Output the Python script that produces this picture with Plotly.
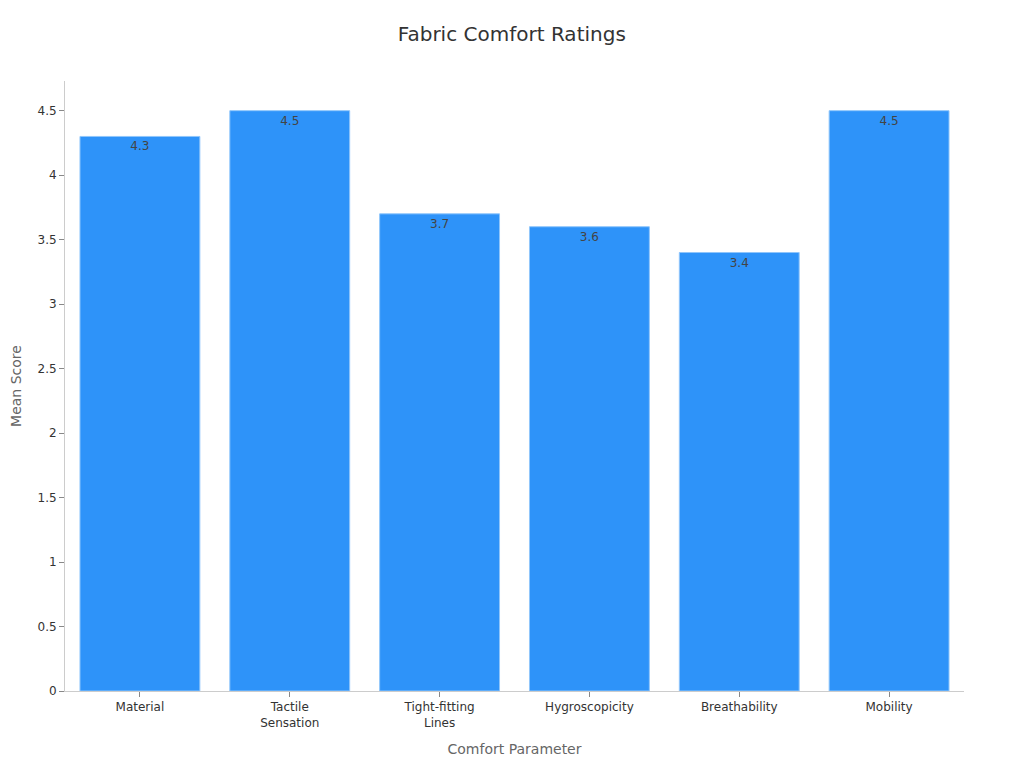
import plotly.graph_objects as go

# dados do grafico
parametros = ['Material', 'Tactile<br>Sensation', 'Tight-fitting<br>Lines',
              'Hygroscopicity', 'Breathability', 'Mobility']
media = [4.3, 4.5, 3.7, 3.6, 3.4, 4.5]
rotulos = ['4.3', '4.5', '3.7', '3.6', '3.4', '4.5']

fig = go.Figure(go.Bar(
    x=parametros,
    y=media,
    text=rotulos,
    textposition='inside',
    insidetextanchor='end',
    textfont=dict(color='#444444', size=12),
    marker=dict(color='#2E93F9', line=dict(color='#90C6FB', width=1)),
))

fig.update_layout(
    width=1024, height=768,
    font=dict(family='DejaVu Sans', color='#333333', size=12),
    title=dict(text='Fabric Comfort Ratings', x=0.492, xanchor='center', y=0.975,
               font=dict(size=20, color='#333333')),
    plot_bgcolor='white', paper_bgcolor='white',
    margin=dict(l=57, r=68, t=73, b=85),
    bargap=0.2,
    showlegend=False,
)
fig.update_xaxes(
    title=dict(text='Comfort Parameter', font=dict(size=14, color='#666666'), standoff=15),
    showline=True, linecolor='#CCCCCC', ticks='outside', tickcolor='#888888', ticklen=5,
    tickfont=dict(size=12, color='#333333'),
)
fig.update_yaxes(
    title=dict(text='Mean Score', font=dict(size=14, color='#666666'), standoff=15),
    automargin=False,
    range=[0, 4.73], dtick=0.5, showgrid=False, zeroline=False,
    showline=True, linecolor='#CCCCCC', ticks='outside', tickcolor='#888888', ticklen=5,
    tickfont=dict(size=12, color='#333333'),
)

fig.write_html('out.html')
